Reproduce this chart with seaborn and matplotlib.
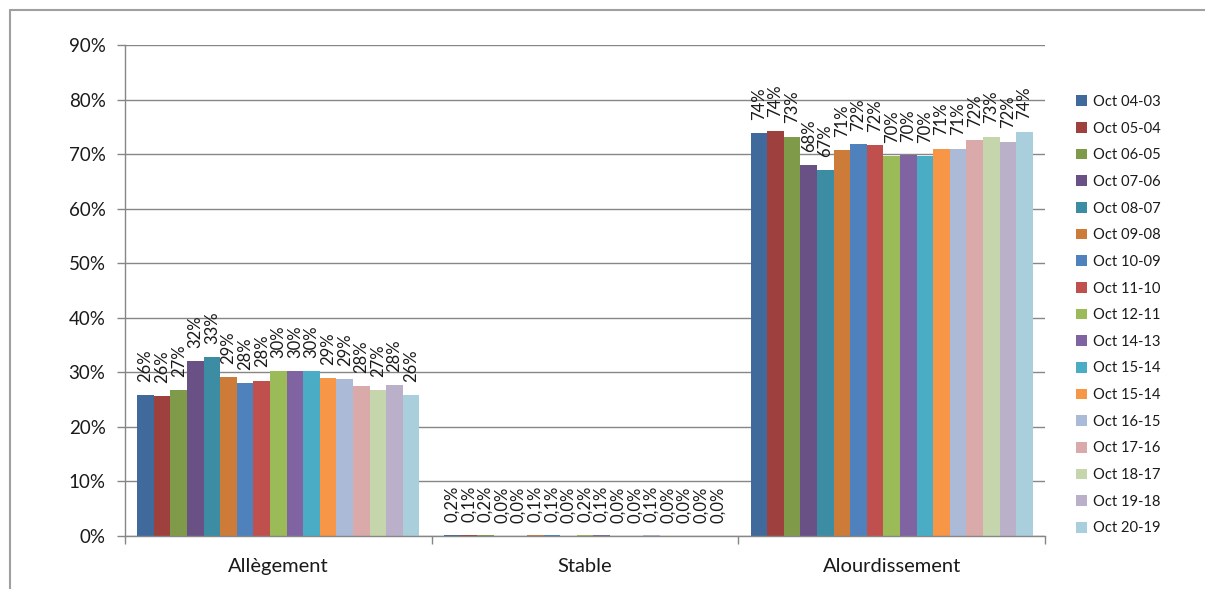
import matplotlib
matplotlib.use("Agg")
import matplotlib.pyplot as plt
from matplotlib.lines import Line2D
from matplotlib.ticker import FixedLocator, MultipleLocator, FuncFormatter
import seaborn as sns
import pandas as pd

# Evolution categories on the x axis
categories = ["Allègement", "Stable", "Alourdissement"]

# Comparison periods (one series each)
periods = ["Oct 04-03", "Oct 05-04", "Oct 06-05", "Oct 07-06", "Oct 08-07",
           "Oct 09-08", "Oct 10-09", "Oct 11-10", "Oct 12-11", "Oct 14-13",
           "Oct 15-14", "Oct 15-14", "Oct 16-15", "Oct 17-16", "Oct 18-17",
           "Oct 19-18", "Oct 20-19"]

# Share of respondents (%) per period, one list per category
allegement = [25.9, 25.6, 26.7, 32.0, 32.8, 29.1, 28.1, 28.5, 30.3, 30.3,
              30.3, 28.9, 28.8, 27.5, 26.8, 27.7, 25.8]
stable = [0.2, 0.1, 0.2, 0.0, 0.0, 0.1, 0.1, 0.0, 0.2, 0.1,
          0.0, 0.0, 0.1, 0.0, 0.0, 0.0, 0.0]
alourdissement = [73.9, 74.3, 73.2, 68.0, 67.1, 70.8, 71.9, 71.6, 69.6, 69.8,
                  69.6, 71.0, 71.0, 72.5, 73.2, 72.3, 74.1]

colors = ["#406A9C", "#9E413E", "#7F9A48", "#695185", "#3C8DA3", "#CC7B38",
          "#4F81BD", "#C0504D", "#9BBB59", "#8064A2", "#4BACC6", "#F79646",
          "#AABAD7", "#D9AAA9", "#C6D6AC", "#BAB0C9", "#A9CEDC"]

# Long-format table; series are keyed by position since two periods share a name
rows = []
for i in range(len(periods)):
    for cat, vals in zip(categories, [allegement, stable, alourdissement]):
        rows.append({"categorie": cat, "serie": f"s{i:02d}", "valeur": vals[i]})
df = pd.DataFrame(rows)
series_keys = [f"s{i:02d}" for i in range(len(periods))]
palette = dict(zip(series_keys, colors))

sns.set_theme(style="white")
plt.rcParams["font.family"] = ["Lato", "DejaVu Sans"]

grey = "#868686"
text_color = "#1a1a1a"
fig = plt.figure(figsize=(12.05, 5.89), dpi=100)
ax = fig.add_axes([125 / 1205, 53 / 589, 920 / 1205, 491 / 589])

sns.barplot(data=df, x="categorie", y="valeur", hue="serie",
            order=categories, hue_order=series_keys, palette=palette,
            width=0.92, saturation=1, linewidth=0, ax=ax, legend=True)

# Rotated value labels on every bar
for k, cont in enumerate(ax.containers):
    labels = []
    for j, bar in enumerate(cont):
        v = bar.get_height()
        if categories[j] == "Stable":
            labels.append(f"{v:.1f}%".replace(".", ","))
        else:
            labels.append(f"{v:.0f}%")
    ax.bar_label(cont, labels=labels, rotation=90, padding=9.5,
                 fontsize=12, color=text_color)

ax.set_xlim(-0.5, 2.5)
ax.set_ylim(0, 90)
ax.yaxis.set_major_locator(MultipleLocator(10))
ax.yaxis.set_major_formatter(FuncFormatter(lambda v, p: f"{v:.0f}%"))
ax.set_xlabel("")
ax.set_ylabel("")

ax.grid(axis="y", color=grey, linewidth=1)
ax.set_axisbelow(True)
for side in ["top", "right"]:
    ax.spines[side].set_visible(False)
for side in ["left", "bottom"]:
    ax.spines[side].set_color(grey)
    ax.spines[side].set_linewidth(1)

ax.tick_params(axis="y", which="major", left=True, length=5.5, width=1,
               color=grey, labelsize=13.5, labelcolor=text_color, pad=8.5)
ax.tick_params(axis="x", which="major", bottom=False, length=0,
               labelsize=14.5, labelcolor=text_color, pad=16)
ax.xaxis.set_minor_locator(FixedLocator([-0.5, 0.5, 1.5, 2.5]))
ax.tick_params(axis="x", which="minor", bottom=True, length=5.5, width=1,
               color=grey)

# Legend with the period names
handles, _ = ax.get_legend_handles_labels()
ax.get_legend().remove()
fig.legend(handles, periods, loc="upper left",
           bbox_to_anchor=(1070 / 1205, 1 - 89 / 589), frameon=False,
           fontsize=10.6, handlelength=0.75, handleheight=0.75,
           handletextpad=0.4, labelspacing=0.86, borderaxespad=0,
           labelcolor=text_color)

# Chart-area border
fig.add_artist(Line2D([10 / 1205, 1.0], [1 - 10 / 589, 1 - 10 / 589],
                      color="#A0A0A0", linewidth=1.5))
fig.add_artist(Line2D([10 / 1205, 10 / 1205], [0, 1 - 10 / 589],
                      color="#A0A0A0", linewidth=1.5))

fig.savefig("out.png", dpi=100, facecolor="white")
